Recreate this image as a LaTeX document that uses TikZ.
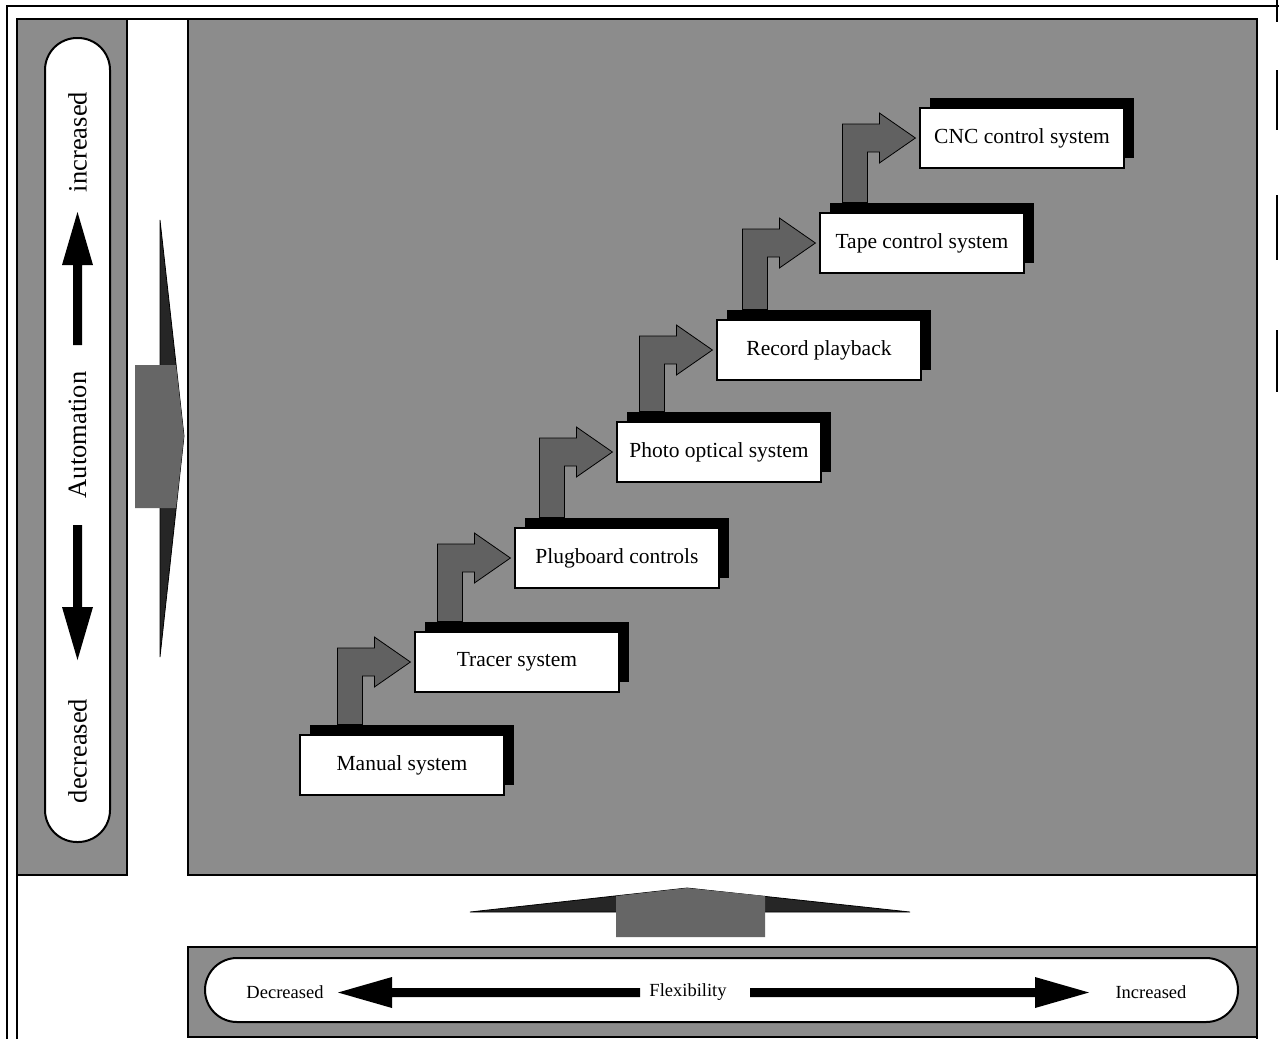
\documentclass[tikz,border=0pt]{standalone}
\usepackage{fontspec}
\setmainfont{Liberation Serif}
\usetikzlibrary{calc,shadows}
\tikzset{
  panel/.style={fill=black!45, draw=black, line width=2.2pt},
  pill/.style={fill=white, draw=black, line width=2pt, rounded corners=32pt},
  stage/.style={draw=black, line width=1.2pt, fill=white, minimum width=204pt, minimum height=60pt,
    inner sep=0pt, font=\fontsize{21.5}{24}\selectfont,
    general shadow={fill=black, shadow xshift=10pt, shadow yshift=10pt}},
  bent/.style={fill=black!62, draw=black, line width=0.8pt},
  axislabel/.style={font=\fontsize{26.5}{30}\selectfont, rotate=90, inner sep=0pt},
  flexlabel/.style={font=\fontsize{18.5}{22}\selectfont, inner sep=0pt},
  solidarrow/.style={fill=black},
  wing/.style={fill=black!85, draw=black, line width=0.8pt},
  core/.style={fill=black!60},
  frameline/.style={draw=black, line width=2pt},
}
\newcommand\bentarrow[2]{%
  \filldraw[bent] let \p1=(#2.west), \p2=(#1.north) in
   (\x1-77pt,\y1+14pt) -- (\x1-40pt,\y1+14pt) -- (\x1-40pt,\y1+25pt) -- (\x1-4pt,\y1)
   -- (\x1-40pt,\y1-25pt) -- (\x1-40pt,\y1-14pt) -- (\x1-52pt,\y1-14pt)
   -- (\x1-52pt,\y2+10pt) -- (\x1-77pt,\y2+10pt) -- cycle;}
\begin{document}
\begin{tikzpicture}[x=1pt,y=-1pt]
\useasboundingbox (0,0) rectangle (1279,1039);
\fill[white] (0,0) rectangle (1279,1039);
% outer frame
\draw[frameline] (7,1039) -- (7,5.5) -- (1279,5.5);
\foreach \a/\b in {0/22,70/130,195/260,330/392} \draw[line width=1.5pt] (1277,\a) -- (1277,\b);
% inner frame
\draw[frameline] (17,1039) -- (17,19) -- (1257,19) -- (1257,1039);
% panels
\draw[panel] (17,19) rectangle (127,875);
\draw[panel] (188,19) rectangle (1257,875);
\draw[panel] (188,947) rectangle (1257,1037);

% left automation scale
\draw[pill] (45,38) rectangle (110,842);
\node[axislabel] (inc) at (77.5,142) {increased};
\node[axislabel] (auto) at (77.5,435) {Automation};
\node[axislabel] (dec) at (77.5,751) {decreased};
\fill[solidarrow] (73,345) -- (73,265) -- (62,265) -- (77.5,212) -- (93,265) -- (82,265) -- (82,345) -- cycle;
\fill[solidarrow] (73,525) -- (82,525) -- (82,607) -- (93,607) -- (77.5,660) -- (62,607) -- (73,607) -- cycle;

% bottom flexibility scale
\draw[pill] (205,958) rectangle (1238,1022);
\node[flexlabel] (decr) at (285,992) {Decreased};
\node[flexlabel] (flex) at (688,992) {Flexibility};
\node[flexlabel] (incr) at (1151,992) {Increased};
\fill[solidarrow] (640,988) -- (392,988) -- (392,977) -- (338,992.5) -- (392,1008) -- (392,997) -- (640,997) -- cycle;
\fill[solidarrow] (750,988) -- (1035,988) -- (1035,977) -- (1089,992.5) -- (1035,1008) -- (1035,997) -- (750,997) -- cycle;

% big pointer arrows
\filldraw[wing] (160,220) -- (184,436) -- (160,657) -- cycle;
\fill[core] (135,365) -- (176,365) -- (184,436) -- (176,508) -- (135,508) -- cycle;
\filldraw[wing] (470,912) -- (687,888) -- (910,912) -- cycle;
\fill[core] (616,937) -- (616,896) -- (687,888) -- (765,896) -- (765,937) -- cycle;

% stages
\node[stage] (manual) at (402,765) {Manual system};
\node[stage] (tracer) at (517,662) {Tracer system};
\node[stage] (plug)   at (617,558) {Plugboard controls};
\node[stage] (photo)  at (719,452) {Photo optical system};
\node[stage] (record) at (819,350) {Record playback};
\node[stage] (tape)   at (922,243) {Tape control system};
\node[stage] (cnc)    at (1022,138) {CNC control system};

\bentarrow{manual}{tracer}
\bentarrow{tracer}{plug}
\bentarrow{plug}{photo}
\bentarrow{photo}{record}
\bentarrow{record}{tape}
\bentarrow{tape}{cnc}
\end{tikzpicture}
\end{document}
